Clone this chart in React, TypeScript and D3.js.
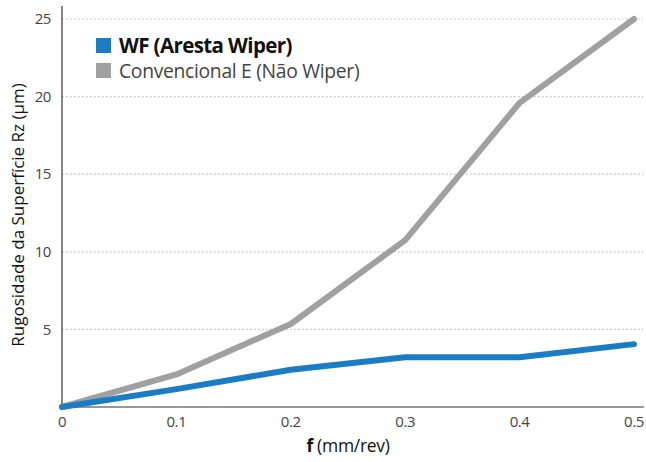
import React from "react";
import * as d3 from "d3";

const feeds = [0, 0.1, 0.2, 0.3, 0.4, 0.5];
const wiperValues = [0, 1.15, 2.4, 3.2, 3.2, 4.05];
const conventionalValues = [0, 2.1, 5.35, 10.75, 19.6, 25];
const yTicks = [5, 10, 15, 20, 25];
const xTickLabels = ["0", "0.1", "0.2", "0.3", "0.4", "0.5"];
const seriesNames = ["WF (Aresta Wiper)", "Convencional E (Não Wiper)"];

const W = 646, H = 462;
const left = 62, right = 634, top = 19, bottom = 407;

export default function App() {
  const x = d3.scaleLinear().domain([0, 0.5]).range([left, right]);
  const y = d3.scaleLinear().domain([0, 25]).range([bottom, top]);
  const line = d3.line<number>().x((_, i) => x(feeds[i])).y((d) => y(d));
  const font = "'Open Sans', sans-serif";
  return (
    <svg width={W} height={H} style={{ position: "absolute", left: 0, top: 0, background: "#fff" }} fontFamily={font}>
      {yTicks.map((t) => (
        <g key={t}>
          <line x1={left} x2={643} y1={y(t)} y2={y(t)} stroke="#bdbdbd" strokeWidth={1.2} strokeDasharray="1.5 2.5" />
          <text x={51} y={y(t)} dy="0.35em" textAnchor="end" fontSize={15} fill="#444" letterSpacing={-0.4}>{t}</text>
        </g>
      ))}
      <line x1={left} x2={left} y1={6} y2={bottom} stroke="#333" strokeWidth={1.2} />
      <line x1={left} x2={644} y1={bottom} y2={bottom} stroke="#333" strokeWidth={1.2} />
      {feeds.map((f, i) => (
        <text key={f} x={x(f)} y={422} dy="0.35em" textAnchor="middle" fontSize={15} fill="#444" letterSpacing={-0.4}>{xTickLabels[i]}</text>
      ))}
      <path d={line(conventionalValues) || ""} fill="none" stroke="#a0a0a0" strokeWidth={6} strokeLinejoin="round" strokeLinecap="round" />
      <path d={line(wiperValues) || ""} fill="none" stroke="#1a7dc4" strokeWidth={6} strokeLinejoin="round" strokeLinecap="round" />
      <text x={348} y={446} dy="0.35em" textAnchor="middle" fontSize={17.5} fill="#111" letterSpacing={-0.3}>
        <tspan fontWeight="bold">f</tspan> (mm/rev)
      </text>
      <text transform={`translate(18,${(top + bottom) / 2 + 2}) rotate(-90)`} dy="0.35em" textAnchor="middle" fontSize={17} fill="#111">
        Rugosidade da Superfície Rz (μm)
      </text>
      <rect x={96} y={38} width={15} height={15} fill="#1a7dc4" />
      <text x={119} y={46} dy="0.35em" fontSize={20.5} fontWeight="bold" fill="#111" letterSpacing={-0.6}>{seriesNames[0]}</text>
      <rect x={96} y={63} width={15} height={15} fill="#a0a0a0" />
      <text x={119} y={71} dy="0.35em" fontSize={19.3} fill="#444" letterSpacing={-0.3}>{seriesNames[1]}</text>
    </svg>
  );
}
